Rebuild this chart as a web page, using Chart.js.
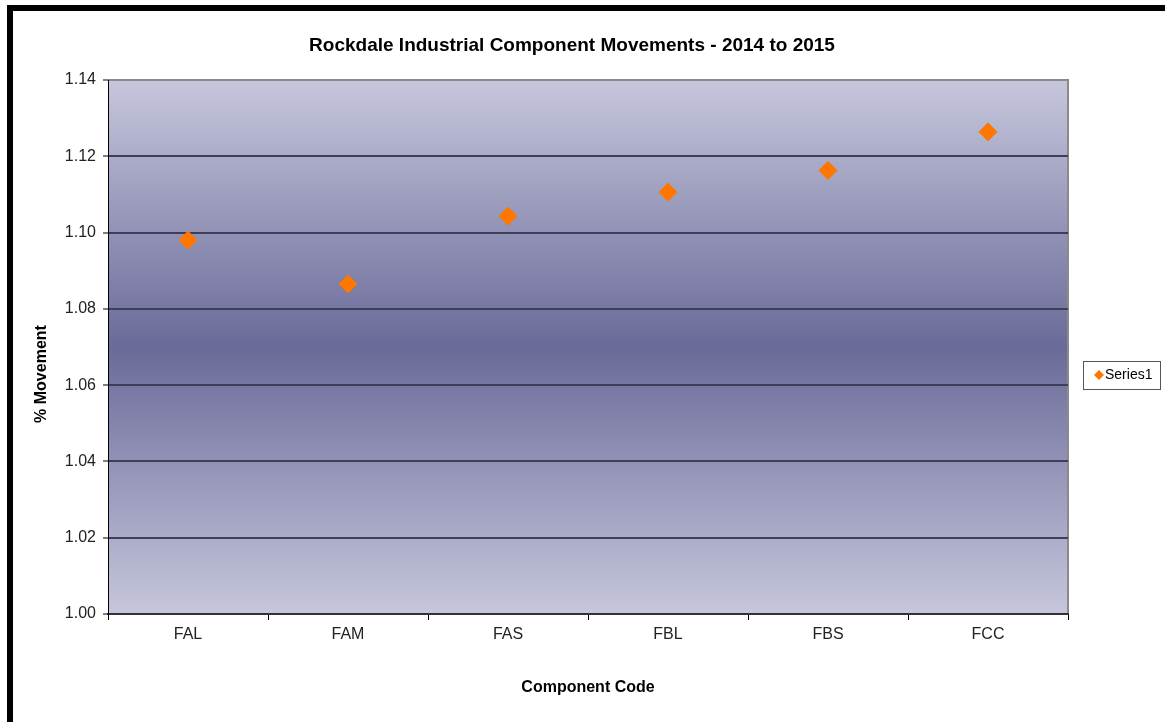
<!DOCTYPE html>
<html>
<head>
<meta charset="utf-8">
<script src="https://cdn.jsdelivr.net/npm/chart.js@4.4.1/dist/chart.umd.min.js"></script>
<style>
  html, body { margin: 0; padding: 0; background: #fff; }
  #wrap { position: relative; width: 1165px; height: 722px; overflow: hidden; }
  #frame {
    position: absolute; left: 7px; top: 5px; right: -10px; bottom: -10px;
    border-top: 6px solid #000; border-left: 6px solid #000;
    pointer-events: none;
  }
  canvas { position: absolute; left: 0; top: 0; }
</style>
</head>
<body>
<div id="wrap">
  <canvas id="movementChart" width="1165" height="722"></canvas>
  <div id="frame"></div>
</div>
<script>
const categories = ["FAL", "FAM", "FAS", "FBL", "FBS", "FCC"];
const series1 = [1.098, 1.0865, 1.1043, 1.1106, 1.1163, 1.1264];
const yTicks = [1.00, 1.02, 1.04, 1.06, 1.08, 1.10, 1.12, 1.14];

const FONT = "'Liberation Sans', Arial, sans-serif";

// plot background: light at top/bottom, dark band in the middle
const plotBackground = {
  id: "plotBackground",
  beforeDraw(chart) {
    const { ctx, chartArea: a } = chart;
    const g = ctx.createLinearGradient(0, a.top, 0, a.bottom);
    g.addColorStop(0, "#c6c7dc");
    g.addColorStop(0.5, "#6a6a99");
    g.addColorStop(1, "#c6c7dc");
    ctx.save();
    ctx.fillStyle = g;
    ctx.fillRect(a.left, a.top, a.right - a.left, a.bottom - a.top);
    ctx.strokeStyle = "#8a8a8a";
    ctx.lineWidth = 2;
    ctx.beginPath();
    ctx.moveTo(a.left, a.top);
    ctx.lineTo(a.right, a.top);
    ctx.lineTo(a.right, a.bottom);
    ctx.stroke();
    ctx.restore();
  },
};

// title, y axis title and legend box
const decorations = {
  id: "decorations",
  afterDraw(chart) {
    const { ctx } = chart;
    ctx.save();
    ctx.fillStyle = "#000";
    ctx.textAlign = "center";
    ctx.textBaseline = "middle";
    ctx.font = "bold 19px " + FONT;
    ctx.fillText("Rockdale Industrial Component Movements - 2014 to 2015", 572, 46);

    ctx.translate(42, 374);
    ctx.rotate(-Math.PI / 2);
    ctx.font = "bold 16px " + FONT;
    ctx.fillText("% Movement", 0, 0);
    ctx.restore();

    // legend
    ctx.save();
    ctx.fillStyle = "#fff";
    ctx.fillRect(1083, 361, 77, 28);
    ctx.strokeStyle = "#555";
    ctx.lineWidth = 1;
    ctx.strokeRect(1083.5, 361.5, 77, 28);
    const mx = 1099, my = 375, r = 5;
    ctx.fillStyle = "#ff7700";
    ctx.beginPath();
    ctx.moveTo(mx, my - r);
    ctx.lineTo(mx + r, my);
    ctx.lineTo(mx, my + r);
    ctx.lineTo(mx - r, my);
    ctx.closePath();
    ctx.fill();
    ctx.fillStyle = "#000";
    ctx.font = "14px " + FONT;
    ctx.textAlign = "left";
    ctx.textBaseline = "middle";
    ctx.fillText(chart.data.datasets[0].label, 1105, 375);
    ctx.restore();
  },
};

const ctx = document.getElementById("movementChart").getContext("2d");

new Chart(ctx, {
  type: "line",
  data: {
    labels: categories,
    datasets: [
      {
        label: "Series1",
        data: series1,
        showLine: false,
        pointStyle: "rectRot",
        pointRadius: 9,
        pointHoverRadius: 9,
        backgroundColor: "#ff7700",
        borderColor: "#ff7700",
        borderWidth: 1,
      },
    ],
  },
  options: {
    responsive: false,
    animation: false,
    events: [],
    layout: { padding: { top: 80, right: 97, bottom: 0, left: 0 } },
    scales: {
      x: {
        offset: true,
        afterFit: (scale) => { scale.height = 108; },
        grid: {
          display: true,
          offset: true,
          drawOnChartArea: false,
          drawTicks: true,
          tickLength: 6,
          color: "#000",
        },
        border: { display: true, color: "#333", width: 2 },
        ticks: {
          color: "#222",
          font: { family: FONT, size: 16 },
          padding: 5,
          maxRotation: 0,
        },
        title: {
          display: true,
          text: "Component Code",
          color: "#000",
          font: { family: FONT, size: 16, weight: "bold" },
          padding: { top: 0, bottom: 25 },
        },
      },
      y: {
        min: 1.0,
        max: 1.14,
        afterFit: (scale) => { scale.width = 108; },
        afterBuildTicks: (scale) => {
          scale.ticks = yTicks.map((v) => ({ value: v }));
        },
        grid: {
          color: (c) => (c.tick && (c.tick.value === 1.0 || c.tick.value === 1.14) ? "rgba(0,0,0,0)" : "#3e3e58"),
          lineWidth: 2,
          drawTicks: true,
          tickLength: 5,
          tickColor: "#000",
          tickWidth: 1,
        },
        border: { display: true, color: "#000", width: 1 },
        ticks: {
          color: "#222",
          font: { family: FONT, size: 16 },
          padding: 7,
          callback: (v) => Number(v).toFixed(2),
        },
      },
    },
    plugins: {
      legend: { display: false },
      title: { display: false },
      tooltip: { enabled: false },
    },
  },
  plugins: [plotBackground, decorations],
});
</script>
</body>
</html>
